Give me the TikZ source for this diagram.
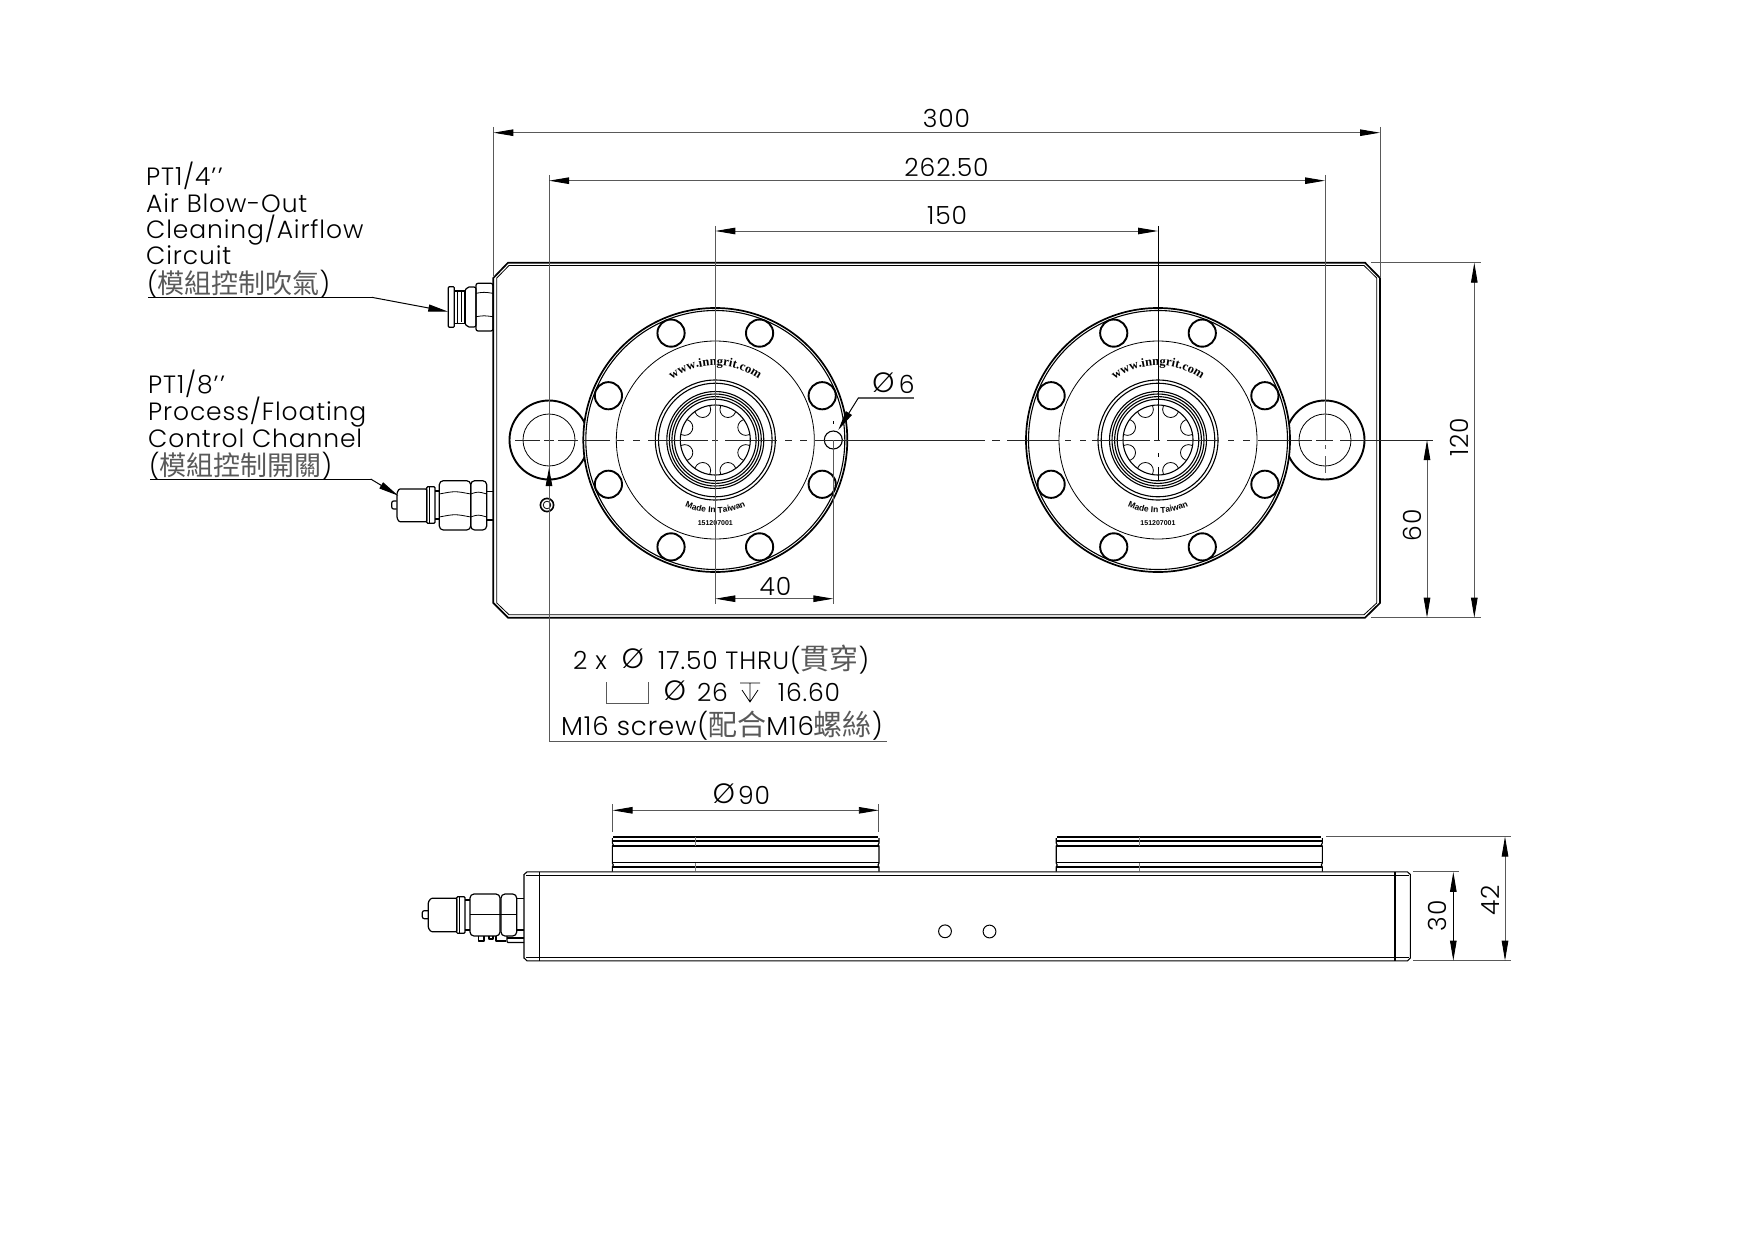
\documentclass[tikz,border=0pt]{standalone}
\usepackage{fontspec}
\setmainfont{Poppins}[UprightFont=* Light,LetterSpace=3.5]
\newfontfamily\cjk{Noto Sans CJK TC}
\newfontfamily\logoser{Liberation Serif}
\newfontfamily\logosan{Liberation Sans}
\usetikzlibrary{arrows.meta,decorations.text}
\definecolor{dimgray}{gray}{0.35}
\newcommand{\zh}[1]{{\cjk\fontsize{27}{27}\selectfont\color{black!65}#1}}
\newcommand{\zhb}[1]{{\cjk\fontsize{29}{29}\selectfont\color{black!65}#1}}
\newcommand{\primes}{{'}\kern1.5pt{'}}
\tikzset{
  x=1pt,y=-1pt,
  thickl/.style={line width=1.7pt,black},
  medl/.style={line width=1.1pt,black},
  thinl/.style={line width=0.8pt,black},
  dimline/.style={line width=0.9pt,dimgray},
  dimarrow/.style={line width=0.9pt,dimgray,{Triangle[length=20pt,width=6.5pt,black]}-{Triangle[length=20pt,width=6.5pt,black]}},
  leader/.style={line width=1pt,black,-{Triangle[length=20pt,width=7pt,black]}},
  dimtext/.style={font=\fontsize{25}{25}\selectfont,inner sep=0pt,black},
  diatext/.style={font=\fontsize{28}{28}\selectfont,inner sep=0pt,black},
  labeltext/.style={font=\fontsize{25}{26.6}\selectfont,inner sep=0pt,anchor=west,black},
  hexl/.style={line width=1.2pt,black,rounded corners=2pt,line join=round},
}
\newcommand{\flange}[2]{%
  \begin{scope}[shift={(#1,#2)}]
    \filldraw[thickl,fill=white] (0,0) circle[radius=132];
    \draw[medl] (0,0) circle[radius=129.5];
    \draw[thinl] (0,0) circle[radius=99];
    \foreach \a in {22.5,67.5,...,360}{\draw[line width=1.9pt] (\a:115.7) circle[radius=13.6];}
    \draw[medl] (0,0) circle[radius=60];
    \draw[medl] (0,0) circle[radius=56.8];
    \foreach \r in {48.5,46,43.4,40.8}{\draw[medl] (0,0) circle[radius=\r];}
    \draw[medl] (0,0) circle[radius=35];
    \begin{scope}
      \clip (0,0) circle[radius=35];
      \foreach \a in {22.5,67.5,...,360}{\draw[thinl] (\a:33) circle[radius=8];}
    \end{scope}
    \path[decorate,decoration={text along path,text align=center,
       text={|\logoser\bfseries\fontsize{12.5}{12.5}\selectfont|www.inngrit.com}}]
       (-145:74.5) arc[start angle=-145,end angle=-35,radius=74.5];
    \path[decorate,decoration={text along path,text align=center,
       text={|\logosan\bfseries\fontsize{8.5}{8.5}\selectfont|Made In Taiwan}}]
       (145:73) arc[start angle=145,end angle=35,radius=73];
    \node[font=\logosan\bfseries\fontsize{7}{7}\selectfont,inner sep=0pt] at (0,83) {151207001};
  \end{scope}}
\newcommand{\cyl}[2]{%
  \draw[thickl] (#1+1,836.7) -- (#2-1,836.7);
  \draw[medl] (#1,838) -- (#1,843) -- (#1+1,845) -- (#1,846) -- (#1,863) -- (#1+1,865) -- (#1,867) -- (#1,871.7);
  \draw[medl] (#2,838) -- (#2,843) -- (#2-1,845) -- (#2,846) -- (#2,863) -- (#2-1,865) -- (#2,867) -- (#2,871.7);
  \draw[medl] (#1,841) -- (#2,841);
  \draw[medl] (#1,846) -- (#2,846);
  \draw[medl] (#1,862.7) -- (#2,862.7);
  \draw[medl] (#1,867) -- (#2,867);
  \draw[thinl,black!50] ({(#1+#2)/2-50},837) -- ({(#1+#2)/2-50},846);
  \draw[thinl,black!50] ({(#1+#2)/2-50},863) -- ({(#1+#2)/2-50},871);}
\begin{document}
\begin{tikzpicture}
\useasboundingbox (0,0) rectangle (1755,1241);
% ---- plate outline
\draw[thickl] (508,262.7) -- (1365,262.7) -- (1380,278) -- (1380,603) -- (1365,617.7) -- (508,617.7) -- (493.3,603) -- (493.3,278) -- cycle;
\draw[thinl] (509,265.5) -- (1364,265.5) -- (1376.7,278) -- (1376.7,603) -- (1364,614.7) -- (509,614.7) -- (496.8,603) -- (496.8,278) -- cycle;
% ---- bosses
\draw[line width=1.9pt] (549,440) circle[radius=39.5];
\draw[thinl] (549,440) circle[radius=26];
\draw[line width=1.9pt] (1325,440) circle[radius=39.5];
\draw[thinl] (1325,440) circle[radius=26];
% ---- flanges
\flange{715.3}{440}
\flange{1158}{440}
% ---- small hole on plate
\draw[line width=1.6pt] (547,505) circle[radius=6.6];
\draw[thinl] (547,505) circle[radius=3.8];
% ---- small hole in flange
\filldraw[medl,fill=white] (833.3,440) circle[radius=9];
\draw[thinl] (833.3,421) -- (833.3,424);
% ---- center line
\foreach \a/\b in {515/540,544/554,558/578,583/610,617/624,633/640,648/708,712/718,725/777,785/792,800/807,815/985,992/1000,1007/1059,1065/1071,1080/1086,1092/1150,1154/1160,1167/1219,1228/1234,1243/1250,1258/1312,1316/1333,1340/1433}{
  \draw[line width=0.9pt,black!85] (\a,440) -- (\b,440);}
% ---- top dims
\coordinate (e300a) at (493.4,127); \coordinate (e300b) at (493.4,276);
\coordinate (e300c) at (1380,127); \coordinate (e300d) at (1380,278);
\draw[dimline] (e300a) -- (e300b);
\draw[dimline] (e300c) -- (e300d);
\draw[dimarrow] (493.4,132.7) -- (1380,132.7);
\node[dimtext] (n300) at (946.5,118.5) {300};
\coordinate (e262a) at (549,175); \coordinate (e262b) at (549,741); \coordinate (e262c) at (886.7,741);
\draw[dimline] (e262a) -- (e262b) -- (e262c);
\draw[dimline] (1325,175) -- (1325,440);
\draw[dimline] (1325,445) -- (1325,449) (1325,456) -- (1325,473);
\draw[dimarrow] (549,180.7) -- (1325,180.7);
\node[dimtext] (n262) at (946.5,167) {262.50};
\draw[dimline] (715.3,226) -- (715.3,604);
\draw[line width=0.9pt,black] (1158,226) -- (1158,440);
\draw[line width=0.9pt,black] (1158,453) -- (1158,457) (1158,467) -- (1158,480);
\draw[dimarrow] (715.3,231) -- (1158,231);
\node[dimtext] (n150) at (947,215.5) {150};
% 40
\draw[dimline] (833.3,440) -- (833.3,604);
\draw[dimarrow] (715.3,598.7) -- (833.3,598.7);
\node[dimtext] (n40) at (775.5,586) {40};
% phi 6
\coordinate (l6a) at (914,398); \coordinate (l6b) at (858.3,398); \coordinate (l6c) at (838.3,430);
\draw[line width=1.4pt,dimgray] (l6a) -- (l6b);
\draw[leader] (l6b) -- (l6c);
\node[diatext] (n6d) at (883.3,383) {Ø};
\node[dimtext] (n6) at (906.7,384) {6};
% 120 / 60
\draw[dimline] (1371,262.7) -- (1481,262.7);
\draw[dimline] (1371,617.7) -- (1481,617.7);
\draw[dimarrow] (1474.3,262.7) -- (1474.3,617.7);
\node[dimtext,rotate=90] (n120) at (1459,437) {120};
\draw[dimarrow] (1427,440) -- (1427,617.7);
\node[dimtext,rotate=90] (n60) at (1412.5,525) {60};
% arrow to hole on plate
\coordinate (ar1) at (549,505); \coordinate (ar2) at (549,468);
\draw[line width=0.9pt,dimgray,-{Triangle[length=18pt,width=6.5pt,black]}] (ar1) -- (ar2);
% ---- hole callout
\node[dimtext] (c1a) at (590,660) {2 x};
\node[diatext] (c1d) at (633,659) {Ø};
\node[dimtext,anchor=west] (c1b) at (658,660) {17.50 THRU(\zhb{貫穿})};
\draw[line width=1pt,dimgray] (606,682) -- (606,703) -- (648,703) -- (648,682);
\node[diatext] (c2d) at (675,691) {Ø};
\node[dimtext] (c2a) at (712.5,692) {26};
\draw[line width=0.8pt,black] (740,683) -- (760,683) (750,683) -- (750,702) (742,690) -- (750,702) -- (758,690);
\node[dimtext] (c2b) at (809,692) {16.60};
\node[dimtext,font=\fontsize{26}{26}\selectfont] (c3) at (722,726) {M16 screw(\zhb{配合}M16\zhb{螺絲})};
% ---- left labels
\node[labeltext] (l1a) at (146,176) {PT1/4\primes};
\node[labeltext] (l1b) at (146,203.5) {Air Blow-Out};
\node[labeltext] (l1c) at (146,230) {Cleaning/Airflow};
\node[labeltext] (l1d) at (146,255.7) {Circuit};
\node[labeltext] (l1e) at (147,284.5) {(\zh{模組控制吹氣})};
\coordinate (u1a) at (148,297.3); \coordinate (u1b) at (371.7,297.3); \coordinate (u1c) at (448.3,311.7);
\draw[line width=1pt] (u1a) -- (u1b);
\draw[leader] (u1b) -- (u1c);
\node[labeltext] (l2a) at (148,384) {PT1/8\primes};
\node[labeltext] (l2b) at (148,412) {Process/Floating};
\node[labeltext] (l2c) at (148,438) {Control Channel};
\node[labeltext] (l2d) at (149,466) {(\zh{模組控制開關})};
\coordinate (u2a) at (150,479); \coordinate (u2b) at (370.7,479); \coordinate (u2c) at (398.3,495.7);
\draw[line width=1pt] (u2a) -- (u2b);
\draw[leader] (u2b) -- (u2c);
% ---- fitting 1
\draw[hexl,rounded corners=1pt] (448.3,286.7) rectangle (454.3,327.3);
\draw[hexl,rounded corners=0pt] (454.3,291) rectangle (465,323.5);
\draw[thinl] (457.5,291) -- (457.5,323.5) (461.7,292) -- (461.7,322);
\draw[hexl] (465,291) -- (467,287) -- (476,287) -- (476,327) -- (467,327) -- (465,323);
\draw[hexl] (476,283.3) rectangle (492.9,331);
\draw[thinl] (476,293.3) .. controls (484,292) .. (492.9,293.3) (476,316.7) .. controls (484,315.5) .. (492.9,316.7);
% ---- fitting 2
\draw[hexl] (396.7,501) -- (391.7,501) -- (391.7,509) -- (396.7,509);
\draw[hexl,rounded corners=1pt] (399,489) -- (426.7,489) -- (426.7,521.7) -- (399,521.7) -- (397,518) -- (397,493) -- cycle;
\draw[hexl,rounded corners=1pt] (426.7,486.7) rectangle (435,523.3);
\draw[thinl] (429.5,486.7) -- (429.5,523.3);
\draw[hexl,rounded corners=0pt] (435,491) -- (439.3,491) (435,519) -- (439.3,519);
\draw[hexl,rounded corners=4pt] (439.3,480.7) rectangle (470.7,530);
\draw[hexl,rounded corners=4pt] (470.7,480.7) rectangle (486.7,530);
\draw[thinl] (439.3,494) .. controls (455,491) .. (470.7,494) (439.3,517) .. controls (455,514) .. (470.7,517);
\draw[thinl] (470.7,494) .. controls (478,491.5) .. (486.7,494) (470.7,517) .. controls (478,514.5) .. (486.7,517);
\draw[hexl,rounded corners=0pt] (486.7,491.7) -- (493.3,491.7) (486.7,520) -- (493.3,520);
% ---- phi 90
\draw[dimline] (612.5,804) -- (612.5,832);
\draw[dimline] (878.8,804) -- (878.8,832);
\draw[dimarrow] (612.5,810.3) -- (878.8,810.3);
\node[diatext] (n90d) at (724,794) {Ø};
\node[dimtext] (n90) at (754,795) {90};
% ---- side view
\cyl{612.3}{879}
\cyl{1056.2}{1322.3}
\draw[medl] (527,871.9) -- (1407.5,871.9) -- (1410.3,874.5) -- (1410.3,958) -- (1407.5,960.8) -- (527,960.8) -- (524,958) -- (524,874.5) -- cycle;
\draw[medl] (526,875.3) -- (1409,875.3);
\draw[medl] (526,957.5) -- (1409,957.5);
\draw[medl] (539.3,871.9) -- (539.3,960.8);
\draw[medl] (1395,871.9) -- (1395,960.8);
\draw[line width=1pt] (945,931.3) circle[radius=6.4];
\draw[line width=1pt] (989.5,931.5) circle[radius=6.4];
% side fitting
\draw[hexl] (428.3,910.7) -- (422.3,910.7) -- (422.3,918.7) -- (428.3,918.7);
\draw[hexl,rounded corners=1pt] (431,898.3) -- (456.7,898.3) -- (456.7,931.7) -- (431,931.7) -- (428.3,928) -- (428.3,902) -- cycle;
\draw[hexl,rounded corners=1pt] (456.7,896.7) rectangle (465,933.3);
\draw[thinl] (459.5,896.7) -- (459.5,933.3);
\draw[hexl,rounded corners=0pt] (465,900) -- (470,900) (465,930) -- (470,930);
\draw[hexl,rounded corners=4pt] (470,894) rectangle (500,936);
\draw[hexl,rounded corners=4pt] (501,894) rectangle (516.7,936);
\draw[thinl] (470,914.3) -- (516.7,914.3);
\draw[hexl,rounded corners=0pt] (516.7,898.3) -- (524,898.3);
\draw[hexl,rounded corners=1pt] (507,936) -- (507,942.5) -- (524,942.5);
\draw[hexl,rounded corners=0pt] (516.7,930) -- (524,930) (507,938) -- (524,938);
\draw[hexl,rounded corners=0pt] (478.5,936) -- (478.5,941) -- (484,941) -- (484,936);
\draw[hexl,rounded corners=0pt] (489,936) -- (489,939) -- (493,939) -- (493,936);
\draw[hexl,rounded corners=0pt] (496,936) -- (496,941) -- (506,941);
% side dims
\draw[dimline] (1326,836.5) -- (1511,836.5);
\draw[dimline] (1413.3,871.9) -- (1459.3,871.9);
\draw[dimline] (1413.3,960.7) -- (1511,960.7);
\draw[dimarrow] (1505,836.5) -- (1505,960.7);
\draw[dimarrow,black] (1453.3,871.9) -- (1453.3,960.7);
\node[dimtext,rotate=90] (n42) at (1490,900) {42};
\node[dimtext,rotate=90] (n30) at (1437.3,915.7) {30};
\end{tikzpicture}
\end{document}
